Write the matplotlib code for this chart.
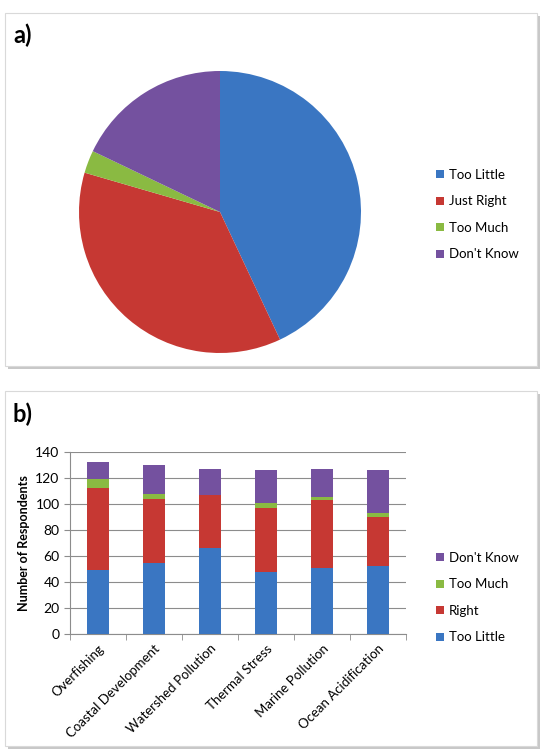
import matplotlib.pyplot as plt
import numpy as np
from matplotlib.patches import Rectangle

plt.rcParams['font.family'] = ['Lato', 'DejaVu Sans']

# pie (panel a)
pie_labels = ["Too Little", "Just Right", "Too Much", "Don't Know"]
pie_values = [43.0, 36.5, 2.6, 17.9]

# stacked bars (panel b)
threats = ["Overfishing", "Coastal Development", "Watershed Pollution",
           "Thermal Stress", "Marine Pollution", "Ocean Acidification"]
too_little = [49, 55, 66, 48, 51, 52]
right = [63, 49, 41, 49, 52, 38]
too_much = [7, 4, 0, 4, 2, 3]
dont_know = [13, 22, 20, 25, 22, 33]

colors = ['#3a76c2', '#c63833', '#8aba42', '#74519f']

W, H = 546, 751
fig = plt.figure(figsize=(W / 100, H / 100), dpi=100)


def fx(x):
    return x / W


def fy(y):
    return 1 - y / H


def panel_box(x0, y0, x1, y1):
    # shadow then white box
    fig.patches.append(Rectangle((fx(x0 + 3), fy(y1 + 3)), fx(x1 - x0), (y1 - y0) / H,
                                 transform=fig.transFigure, facecolor='#c8c8c8',
                                 edgecolor='none', zorder=-3))
    fig.patches.append(Rectangle((fx(x0), fy(y1)), fx(x1 - x0), (y1 - y0) / H,
                                 transform=fig.transFigure, facecolor='white',
                                 edgecolor='#d9d9d9', linewidth=0.8, zorder=-2))


panel_box(5, 13, 537, 366)
panel_box(5, 391, 537, 746)

fig.text(fx(13), fy(35), "a)", fontsize=17, fontweight='bold', va='center')
fig.text(fx(13), fy(414), "b)", fontsize=17, fontweight='bold', va='center')

# panel a
ax1 = fig.add_axes([fx(79), fy(353), fx(282), 282 / H])
ax1.patch.set_visible(False)
wedges, _ = ax1.pie(pie_values, colors=colors, startangle=90, counterclock=False,
                    wedgeprops=dict(linewidth=0))
ax1.set_xlim(-1, 1)
ax1.set_ylim(-1, 1)
ax1.set_aspect('equal')
ax1.legend(wedges, pie_labels, loc='upper left', bbox_to_anchor=(fx(424), fy(157)),
           bbox_transform=fig.transFigure, frameon=False, fontsize=9.5,
           handlelength=0.6, handleheight=0.6, handletextpad=0.4, labelspacing=1.1)

# panel b
ax2 = fig.add_axes([fx(70), fy(634), fx(336), 182 / H])
ax2.patch.set_visible(False)
x = np.arange(len(threats))
series = [too_little, right, too_much, dont_know]
names = ["Too Little", "Right", "Too Much", "Don't Know"]
bottom = np.zeros(len(threats))
bars = []
for vals, col, name in zip(series, colors, names):
    b = ax2.bar(x, vals, 0.4, bottom=bottom, color=col, label=name, zorder=3)
    bars.append(b)
    bottom += np.array(vals)

ax2.set_xlim(-0.5, len(threats) - 0.5)
ax2.set_ylim(0, 140)
ax2.set_yticks(range(0, 141, 20))
ax2.yaxis.grid(True, color='#8c8c8c', linewidth=0.8, zorder=0)
ax2.set_axisbelow(True)
ax2.set_xticks(x)
ax2.set_xticklabels(threats, rotation=45, ha='right', rotation_mode='anchor', fontsize=9.5)
ax2.set_xticks(np.arange(-0.5, len(threats)), minor=True)
ax2.tick_params(axis='x', which='major', length=0, pad=6)
ax2.tick_params(axis='x', which='minor', length=4, color='#8c8c8c')
ax2.tick_params(axis='y', length=4, color='#8c8c8c', labelsize=10)
for s in ['top', 'right']:
    ax2.spines[s].set_visible(False)
for s in ['left', 'bottom']:
    ax2.spines[s].set_color('#8c8c8c')
ax2.set_ylabel("Number of Respondents", fontsize=9, fontweight='bold', labelpad=4)

ax2.legend(bars[::-1], names[::-1], loc='upper left', bbox_to_anchor=(fx(424), fy(540)),
           bbox_transform=fig.transFigure, frameon=False, fontsize=9.5,
           handlelength=0.6, handleheight=0.6, handletextpad=0.4, labelspacing=1.1)

fig.savefig("out.png", dpi=100)
